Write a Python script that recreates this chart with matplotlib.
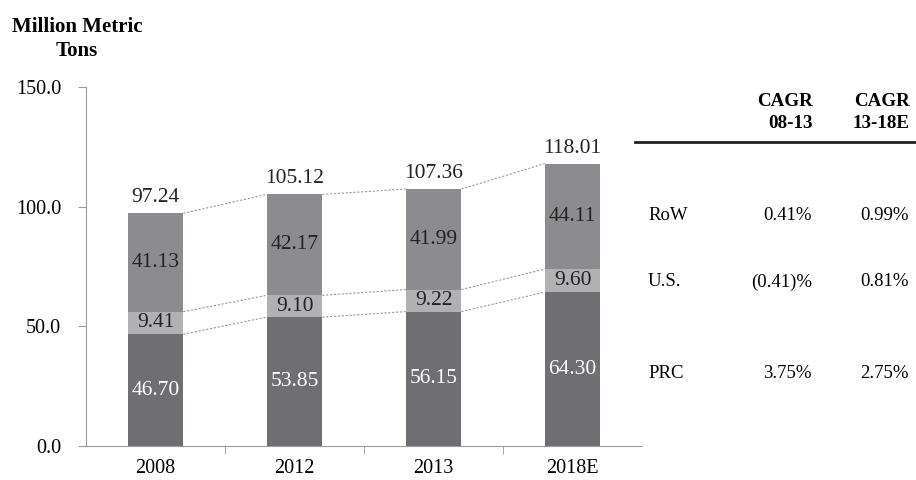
import matplotlib.pyplot as plt
import numpy as np

plt.rcParams['font.family'] = ['Liberation Serif', 'DejaVu Serif']

# datos del grafico
years = ['2008', '2012', '2013', '2018E']
prc = [46.70, 53.85, 56.15, 64.30]
us = [9.41, 9.10, 9.22, 9.60]
row = [41.13, 42.17, 41.99, 44.11]
totals = [97.24, 105.12, 107.36, 118.01]

# tabla CAGR
regions = ['RoW', 'U.S.', 'PRC']
cagr_08_13 = ['0.41%', '(0.41)%', '3.75%']
cagr_13_18 = ['0.99%', '0.81%', '2.75%']

c_prc = '#6f6f73'
c_us = '#b1b1b4'
c_row = '#8c8c90'
axis_c = '#9a9a9a'

fig = plt.figure(figsize=(9.16, 4.8), dpi=100)
ax = fig.add_axes([0.0939, 0.0708, 0.607, 0.748])

x = np.arange(len(years))
w = 0.4
prc = np.array(prc)
us = np.array(us)
row = np.array(row)

ax.bar(x, prc, w, color=c_prc)
ax.bar(x, us, w, bottom=prc, color=c_us)
ax.bar(x, row, w, bottom=prc + us, color=c_row)

fs = 15.5
for i in range(len(years)):
    ax.text(x[i], prc[i] / 2, f'{prc[i]:.2f}', ha='center', va='center', color='white', fontsize=fs)
    ax.text(x[i], prc[i] + us[i] / 2, f'{us[i]:.2f}', ha='center', va='center', color='#222222', fontsize=fs)
    ax.text(x[i], prc[i] + us[i] + row[i] / 2, f'{row[i]:.2f}', ha='center', va='center', color='#222222', fontsize=fs)
    ax.text(x[i], totals[i] + 2.5, f'{totals[i]:.2f}', ha='center', va='bottom', color='#222222', fontsize=fs)

# lineas punteadas entre barras
levels = [prc, prc + us, prc + us + row]
for lv in levels:
    for i in range(len(years) - 1):
        ax.plot([x[i] + w / 2, x[i + 1] - w / 2], [lv[i], lv[i + 1]],
                linestyle=(0, (2, 1.5)), color='#999999', linewidth=0.8)

tfs = 14.5
ax.set_xlim(-0.5, len(years) - 0.5)
ax.set_ylim(0, 150)
ax.set_yticks([0, 50, 100, 150])
ax.set_yticklabels(['0.0', '50.0', '100.0', '150.0'], fontsize=tfs)
ax.set_xticks(x)
ax.set_xticklabels(years, fontsize=tfs)
ax.set_xticks(np.arange(0.5, len(years) - 1, 1.0), minor=True)
ax.tick_params(axis='x', which='major', length=0, pad=9)
ax.tick_params(axis='x', which='minor', length=6, color=axis_c)
ax.tick_params(axis='y', length=6, color=axis_c, pad=12)
ax.spines['top'].set_visible(False)
ax.spines['right'].set_visible(False)
ax.spines['left'].set_color(axis_c)
ax.spines['bottom'].set_color(axis_c)

fig.text(77 / 916, 1 - 27 / 480, 'Million Metric', ha='center', va='center', fontsize=15, fontweight='bold')
fig.text(77 / 916, 1 - 51 / 480, 'Tons', ha='center', va='center', fontsize=15, fontweight='bold')

# tabla a la derecha
hfs = 13.7
fig.text(813 / 916, 1 - 102 / 480, 'CAGR', ha='right', va='center', fontsize=hfs, fontweight='bold')
fig.text(813 / 916, 1 - 123 / 480, '08-13', ha='right', va='center', fontsize=hfs, fontweight='bold')
fig.text(910 / 916, 1 - 102 / 480, 'CAGR', ha='right', va='center', fontsize=hfs, fontweight='bold')
fig.text(910 / 916, 1 - 123 / 480, '13-18E', ha='right', va='center', fontsize=hfs, fontweight='bold')
fig.add_artist(plt.Line2D([635 / 916, 1.0], [1 - 142 / 480, 1 - 142 / 480], color='#222222', linewidth=2))

row_y = [215, 282, 373]
for name, a, b, yy in zip(regions, cagr_08_13, cagr_13_18, row_y):
    fig.text(648 / 916, 1 - yy / 480, name, ha='left', va='center', fontsize=13.5)
    fig.text(812 / 916, 1 - yy / 480, a, ha='right', va='center', fontsize=13.5)
    fig.text(909 / 916, 1 - yy / 480, b, ha='right', va='center', fontsize=13.5)

plt.savefig('out.png', dpi=100)
